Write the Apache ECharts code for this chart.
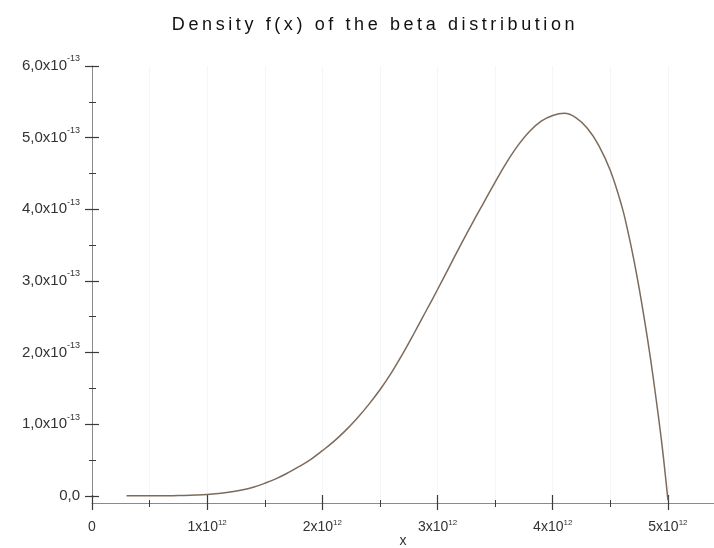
<!DOCTYPE html>
<html>
<head>
<meta charset="utf-8">
<script src="https://cdn.jsdelivr.net/npm/echarts@6/dist/echarts.min.js"></script>
<style>
html,body{margin:0;padding:0;background:#ffffff;}
#chart{width:714px;height:548px;}
</style>
</head>
<body>
<div id="chart"></div>
<script>
// ---- data (x in units of 1e12, density in units of 1e-13) ----
const titleText = 'Density f(x) of the beta distribution';
const xAxisName = 'x';
const xValues = [0.3,0.4,0.5,0.6,0.7,0.8,0.9,1.0,1.1,1.2,1.3,1.4,1.5,1.6,1.7,1.8,1.9,2.0,2.1,2.2,2.3,2.4,2.5,2.6,2.7,2.8,2.9,3.0,3.1,3.2,3.3,3.4,3.5,3.6,3.7,3.8,3.9,4.0,4.1,4.2,4.3,4.4,4.5,4.6,4.65,4.7,4.75,4.8,4.85,4.9,4.95,5.0];
const yValues = [0,0,0,0.001,0.002,0.005,0.01,0.018,0.032,0.052,0.08,0.12,0.175,0.24,0.32,0.41,0.51,0.63,0.76,0.91,1.08,1.27,1.48,1.72,1.99,2.28,2.58,2.88,3.19,3.50,3.80,4.09,4.38,4.655,4.895,5.09,5.23,5.31,5.34,5.28,5.13,4.89,4.54,4.04,3.71,3.33,2.90,2.42,1.90,1.32,0.69,-0.06];
const xTickValues = [0,1,2,3,4,5];
const yTickValues = [0,1,2,3,4,5,6];
const yMinorTickValues = [0.5,1.5,2.5,3.5,4.5,5.5];
const xExponent = '12';
const yExponent = '-13';

const seriesData = xValues.map((x, i) => [x, yValues[i]]);

const labelFont = 'Liberation Sans, Arial, sans-serif';
const axisGray = '#8a8a8a';
const tickDark = '#3a3a3a';

const xRich = {
  m: {fontSize: 14, lineHeight: 14, color: '#333', fontFamily: labelFont},
  s: {fontSize: 8, lineHeight: 8, color: '#333', fontFamily: labelFont, padding: [0, 0, 8, 0]}
};
const yRich = {
  m: {fontSize: 15, lineHeight: 15, color: '#333', fontFamily: labelFont},
  s: {fontSize: 9, lineHeight: 9, color: '#333', fontFamily: labelFont, padding: [0, 0, 14, 0]}
};

function xFmt(v) {
  if (v === 0) return '{m|0}';
  return '{m|' + v + 'x10}{s|' + xExponent + '}';
}
function yFmt(v) {
  if (v === 0) return '{m|0,0}';
  return '{m|' + v.toFixed(1).replace('.', ',') + 'x10}{s|' + yExponent + '}';
}

const xCommon = {type: 'value', min: 0, max: 5.4, interval: 1, gridIndex: 0, position: 'bottom'};
const yCommon = {type: 'value', min: -0.1, max: 6, gridIndex: 0, position: 'left', splitLine: {show: false}};

const option = {
  animation: false,
  backgroundColor: '#ffffff',
  grid: {left: 92, right: 0, top: 66, bottom: 45, containLabel: false, outerBoundsMode: 'none'},
  graphic: [{
    type: 'text', zlevel: 1, x: 375, y: 25,
    style: {text: titleText, fontSize: 18, fontFamily: labelFont, fill: '#111', align: 'center', verticalAlign: 'middle'}
  }],
  xAxis: [
    Object.assign({}, xCommon, {
      name: xAxisName, nameLocation: 'middle', nameGap: 31, nameMoveOverlap: false,
      nameTextStyle: {fontSize: 14, color: '#333', fontFamily: labelFont},
      axisLine: {show: true, onZero: false, lineStyle: {color: axisGray, width: 1}},
      axisTick: {show: true, inside: false, length: 7, customValues: xTickValues, lineStyle: {color: tickDark, width: 1.2}},
      minorTick: {show: true, splitNumber: 2, length: 4, lineStyle: {color: tickDark, width: 1}},
      axisLabel: {show: true, margin: 17, customValues: xTickValues, showMaxLabel: true, formatter: xFmt, rich: xRich},
      splitLine: {show: true, lineStyle: {color: '#f5f5f5', width: 1}},
      minorSplitLine: {show: true, lineStyle: {color: '#f5f5f5', width: 1}}
    }),
    Object.assign({}, xCommon, {
      axisLine: {show: false, onZero: false},
      axisTick: {show: true, inside: true, length: 8, customValues: xTickValues, lineStyle: {color: tickDark, width: 1.2}},
      minorTick: {show: true, splitNumber: 2, length: 3, lineStyle: {color: tickDark, width: 1}},
      axisLabel: {show: false},
      splitLine: {show: false}
    })
  ],
  yAxis: [
    Object.assign({}, yCommon, {
      axisLine: {show: true, onZero: false, lineStyle: {color: axisGray, width: 1}},
      axisTick: {show: true, inside: false, length: 7, customValues: yTickValues, lineStyle: {color: tickDark, width: 1.2}},
      axisLabel: {show: true, margin: 12, customValues: yTickValues, formatter: yFmt, rich: yRich}
    }),
    Object.assign({}, yCommon, {
      axisLine: {show: false, onZero: false},
      axisTick: {show: true, inside: true, length: 7, customValues: yTickValues, lineStyle: {color: tickDark, width: 1.2}},
      axisLabel: {show: false}
    }),
    Object.assign({}, yCommon, {
      axisLine: {show: false, onZero: false},
      axisTick: {show: true, inside: false, length: 3, customValues: yMinorTickValues, lineStyle: {color: tickDark, width: 1}},
      axisLabel: {show: false}
    }),
    Object.assign({}, yCommon, {
      axisLine: {show: false, onZero: false},
      axisTick: {show: true, inside: true, length: 4, customValues: yMinorTickValues, lineStyle: {color: tickDark, width: 1}},
      axisLabel: {show: false}
    })
  ],
  series: [{
    type: 'line',
    xAxisIndex: 0,
    yAxisIndex: 0,
    data: seriesData,
    showSymbol: false,
    smooth: 0.4,
    clip: false,
    lineStyle: {color: '#7b6b5d', width: 1.5}
  }]
};

const chart = echarts.init(document.getElementById('chart'), null, {renderer: 'canvas'});
try {
  const layer = chart.getZr().painter.getLayer(1);
  if (layer && layer.ctx) layer.ctx.letterSpacing = '3.6px';
} catch (e) {}
chart.setOption(option);
try {
  const painter = chart.getZr().painter;
  const layer = painter.getLayer(1);
  if (layer && layer.ctx) layer.ctx.letterSpacing = '3.6px';
  painter.refresh(true);
} catch (e) {}
</script>
</body>
</html>
